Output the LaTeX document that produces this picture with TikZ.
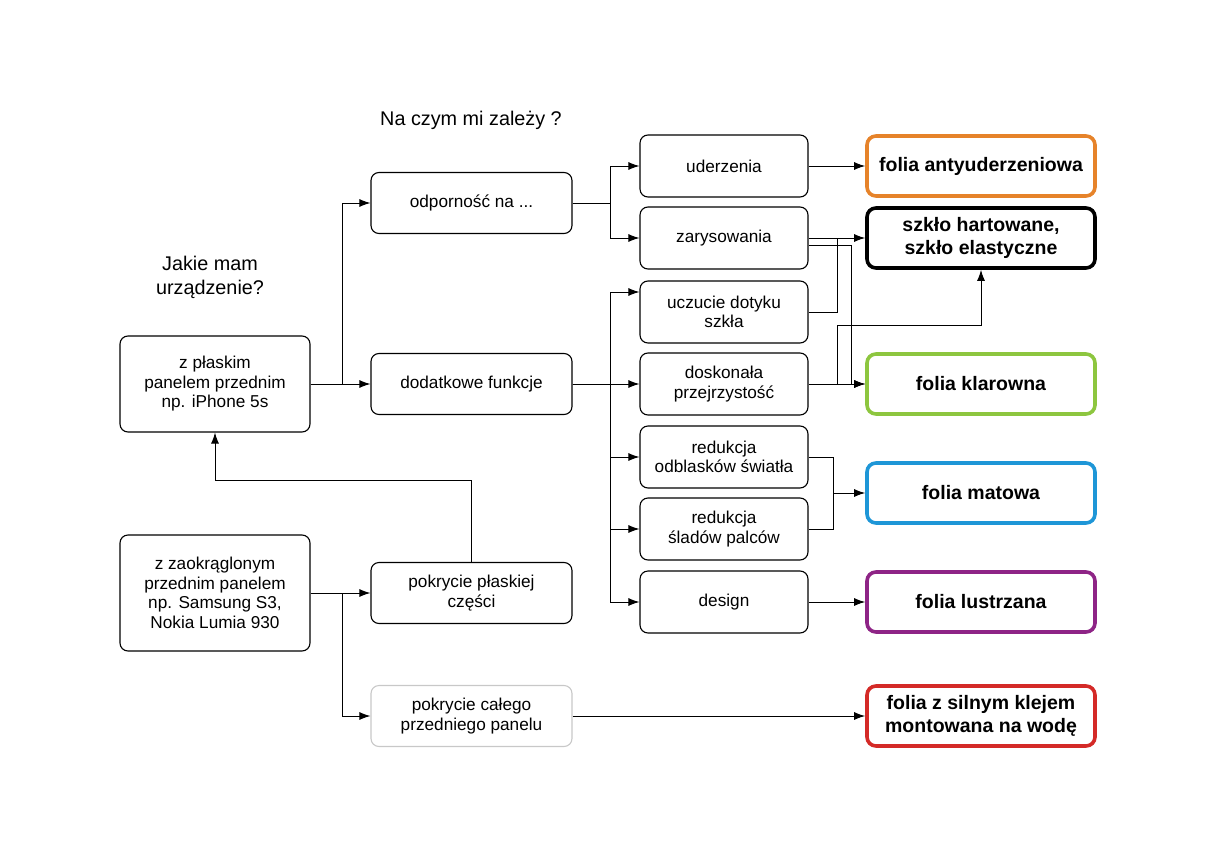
\documentclass[tikz,border=0pt]{standalone}
\usepackage{fontspec}
\setmainfont{Liberation Sans}
\usepackage{tikz}
\usetikzlibrary{arrows.meta,positioning,calc}
\usepackage{xcolor}
\definecolor{cOrange}{RGB}{230,131,42}
\definecolor{cGreen}{RGB}{141,198,63}
\definecolor{cBlue}{RGB}{30,150,215}
\definecolor{cPurple}{RGB}{142,36,134}
\definecolor{cRed}{RGB}{212,42,39}
\definecolor{cGray}{RGB}{200,200,200}

\begin{document}
\begin{tikzpicture}[
    x=1pt, y=-1pt,
    box/.style={draw, rounded corners=8pt, line width=1.1pt, align=center,
        minimum width=201pt, minimum height=61pt, inner sep=0pt,
        font=\fontsize{17.2}{19.5}\selectfont},
    device/.style={box, minimum width=190pt},
    choice/.style={box, minimum width=168pt, minimum height=62pt},
    result/.style={draw, rounded corners=9pt, line width=3.6pt, align=center,
        minimum width=228pt, minimum height=60pt, inner sep=0pt,
        font=\fontsize{19.5}{23}\selectfont\bfseries},
    title/.style={align=center, font=\fontsize{19.8}{24}\selectfont},
    arr/.style={-{Latex[length=11pt,width=8pt]}, line width=1pt},
    line/.style={line width=1pt}
]
\useasboundingbox (0,0) rectangle (1215,859);

% questions
\node[title] (qdev) at (210,277) {Jakie mam\\urządzenie?};
\node[title] (qneed) at (471,120) {Na czym mi zależy ?};

% devices
\node[device, minimum height=96pt] (flat) at (215,384) {z płaskim\\panelem przednim\\np. iPhone 5s};
\node[device, minimum height=116pt] (round) at (215,593) {z zaokrąglonym\\przednim panelem\\np. Samsung S3,\\Nokia Lumia 930};

% second column
\node[box] (odp) at (471.5,203) {odporność na ...};
\node[box] (funk) at (471.5,384) {dodatkowe funkcje};
\node[box] (plaska) at (471.5,593) {pokrycie płaskiej\\części};
\node[box, draw=cGray] (caly) at (471.5,716) {pokrycie całego\\przedniego panelu};

% third column
\node[choice] (uderz) at (724,166) {uderzenia};
\node[choice] (zarys) at (724,238) {zarysowania};
\node[choice] (uczu) at (724,312) {uczucie dotyku\\szkła};
\node[choice] (dosk) at (724,384) {doskonała\\przejrzystość};
\node[choice] (odbl) at (724,457) {redukcja\\odblasków światła};
\node[choice] (slad) at (724,529) {redukcja\\śladów palców};
\node[choice] (design) at (724,602) {design};

% results
\node[result, draw=cOrange] (anty) at (981,166) {folia antyuderzeniowa};
\node[result, draw=black] (szklo) at (981,238) {szkło hartowane,\\szkło elastyczne};
\node[result, draw=cGreen] (klar) at (981,384) {folia klarowna};
\node[result, draw=cBlue] (mat) at (981,493) {folia matowa};
\node[result, draw=cPurple] (lustr) at (981,602) {folia lustrzana};
\node[result, draw=cRed] (klej) at (981,716) {folia z silnym klejem\\montowana na wodę};

% devices -> second column
\draw[arr] (flat.east) -- (funk.west);
\draw[arr] (flat.east) -- ++(32,0) |- (odp.west);
\draw[arr] (round.east) -- (plaska.west);
\draw[arr] (round.east) -- ++(32,0) |- (caly.west);
\draw[arr] (plaska.north) -- (plaska.north |- 0,480) -| (flat.south);

% second column -> third column
\draw[arr] (odp.east) -- ++(38,0) |- (uderz.west);
\draw[arr] (odp.east) -- ++(38,0) |- (zarys.west);
\draw[arr] (funk.east) -- (dosk.west);
\draw[arr] (funk.east) -- ++(38,0) |- ([yshift=20pt]uczu.west);
\draw[arr] (funk.east) -- ++(38,0) |- (odbl.west);
\draw[arr] (funk.east) -- ++(38,0) |- (slad.west);
\draw[arr] (funk.east) -- ++(38,0) |- (design.west);

% third column -> results
\draw[arr] (uderz.east) -- (anty.west);
\draw[arr] (zarys.east) -- (szklo.west);
\draw[line] (uczu.east) -| ([xshift=29pt]zarys.east);
\draw[arr] ([yshift=-7pt]zarys.east) -- ++(43,0) |- (klar.west);
\draw[arr] (dosk.east) -- (klar.west);
\draw[arr] ([xshift=29pt]dosk.east) -- ++(0,-59) -| (szklo.south);
\coordinate (mj) at ($(odbl.east)+(25,0)$);
\draw[line] (odbl.east) -- (mj) |- (slad.east);
\draw[arr] (mj |- mat.west) -- (mat.west);
\draw[arr] (design.east) -- (lustr.west);
\draw[arr] (caly.east) -- (klej.west);

\end{tikzpicture}
\end{document}
